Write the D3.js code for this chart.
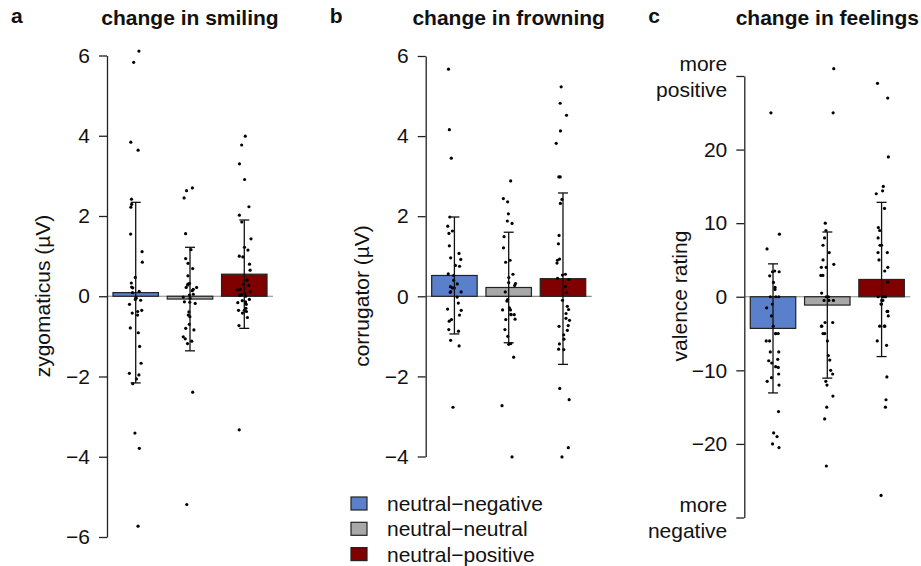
<!DOCTYPE html>
<meta charset="utf-8">
<html>
<head>
    <style>
        body { margin: 0; background: #fff; }
        svg text { font-family: "Liberation Sans", Arial, sans-serif; fill: #111; }
        .axis path, .axis line { stroke: #222; stroke-width: 1.3px; }
        .axis text { font-size: 21px; }
        .title { font-size: 21px; font-weight: bold; }
        .ylab { font-size: 21px; }
        .legend text { font-size: 21px; }
    </style>
    <script src="https://d3js.org/d3.v7.min.js"></script>
</head>
<body>
<svg id="svg" width="921" height="566"></svg>
<script>

    var conditions = ["neutral\u2212negative", "neutral\u2212neutral", "neutral\u2212positive"];

    // a: zygomaticus
    var smilingMeans = [0.09, -0.07, 0.55];
    var smilingSD = [2.25, 1.29, 1.35];
    var smilingTicks = [-6, -4, -2, 0, 2, 4, 6];
    var smilingNeg = [6.11, 5.83, 3.84, 3.64, 2.42, 2.29, 2.22, 1.55, 1.11, 0.85, 0.47, 0.33, 0.21, 0.23, 0.12, 0.09,
        -0.03, -0.05, -0.08, -0.1, -0.2, -0.35, -0.42, -0.38, -0.47, -0.79, -0.91, -1.25, -1.67, -1.92, -1.96, -2.06,
        -2.18, -3.41, -3.79, -5.73];
    var smilingNeu = [2.70, 2.63, 2.45, 1.56, 1.16, 0.94, 0.82, 0.69, 0.51, 0.32, 0.3, 0.28, 0.22, 0.22, 0.17, 0.14,
        0.05, 0.03, -0.02, -0.05, -0.14, -0.15, -0.18, -0.39, -0.47, -0.51, -0.70, -0.80, -0.84, -1.01, -1.06, -1.12,
        -1.18, -2.39, -5.19];
    var smilingPos = [3.99, 3.77, 3.30, 2.91, 2.23, 2.02, 1.85, 1.43, 1.22, 1.15, 1.0, 0.98, 0.8, 0.65, 0.4, 0.3, 0.27,
        0.17, 0.16, 0.11, 0.07, 0.04, 0.02, 0.0, -0.08, -0.11, -0.14, -0.16, -0.18, -0.2, -0.3, -0.35, -0.35, -0.38,
        -0.42, -0.53, -0.73, -3.33];

    // b: corrugator
    var frowningMeans = [0.52, 0.22, 0.44];
    var frowningSD = [1.46, 1.38, 2.14];
    var frowningTicks = [-4, -2, 0, 2, 4, 6];
    var frowningNeg = [5.67, 4.16, 3.45, 1.98, 1.75, 1.63, 1.57, 1.26, 1.07, 0.96, 0.92, 0.77, 0.75, 0.56, 0.52, 0.40,
        0.31, 0.24, 0.21, 0.21, 0.12, 0.11, 0.1, -0.02, -0.17, -0.32, -0.35, -0.47, -0.58, -0.62, -0.83, -0.87, -1.10,
        -1.24, -2.77];
    var frowningNeu = [2.88, 2.44, 2.36, 2.06, 1.88, 1.82, 1.49, 1.21, 0.9, 0.85, 0.55, 0.47, 0.34, 0.32, 0.27, 0.11,
        -0.08, -0.12, -0.29, -0.34, -0.34, -0.46, -0.45, -0.46, -0.57, -0.58, -0.83, -1.0, -1.18, -1.2, -1.52, -2.73,
        -4.01];
    var frowningPos = [5.23, 4.82, 4.52, 4.13, 3.82, 2.98, 2.98, 2.42, 2.32, 1.52, 1.31, 0.93, 0.9, 0.83, 0.55, 0.53,
        0.42, 0.45, 0.24, 0.09, -0.1, -0.25, -0.33, -0.43, -0.55, -0.6, -0.73, -0.75, -0.85, -0.96, -1.07, -1.19, -1.32,
        -1.33, -2.3, -2.58, -3.78, -4.01];

    // c: valence rating
    var feelingsMeans = [-4.3, -1.13, 2.35];
    var feelingsSD = [8.77, 9.93, 10.48];
    var feelingsTicks = [-30, -20, -10, 0, 10, 20, 30];
    var feelingsNeg = [25, 8.5, 6.5, 3.5, 3.4, 3.4, 2.85, 1.95, 1.27, 1.0, 0, 0, 0, -1, -1.5, -2.6, -4, -5, -5, -5, -6,
        -6, -7.5, -7.5, -8.5, -8.7, -9, -9.5, -9.6, -10.5, -11, -11.5, -12, -15.6, -18.5, -19, -20, -20.5];
    var feelingsNeu = [31, 25, 10, 9, 8, 7, 6, 5, 4.4, 4, 4, 2.9, 2.9, 0.5, 0, 0, -0.5, -0.5, -0.5, -3.5, -3.5, -4, -4,
        -5, -5, -6, -8, -8.6, -10, -10.5, -11.5, -12, -13.5, -15, -16.6, -23];
    var feelingsPos = [29, 27, 19, 15, 14.4, 14, 12, 9.4, 9, 8, 7, 7, 6, 6, 5, 4, 3.5, 2, 2, 0, 0, 0, 0, -0.5, -0.5,
        -1, -1, -2, -2, -2.6, -4, -4, -4, -6, -6.6, -10.9, -14, -15, -27];

    var colors = ["#5a80cc", "#a8a8a8", "#800000"];

    var panels = [
        {letter: "a", title: "change in smiling", ylab: "zygomaticus (\u00b5V)", means: smilingMeans, sds: smilingSD,
            points: [smilingNeg, smilingNeu, smilingPos], ticks: smilingTicks, domain: [-6, 6], range: [537, 55.5], x0: 107},
        {letter: "b", title: "change in frowning", ylab: "corrugator (\u00b5V)", means: frowningMeans, sds: frowningSD,
            points: [frowningNeg, frowningNeu, frowningPos], ticks: frowningTicks, domain: [-4, 6], range: [456.5, 56], x0: 425.7},
        {letter: "c", title: "change in feelings", ylab: "valence rating", means: feelingsMeans, sds: feelingsSD,
            points: [feelingsNeg, feelingsNeu, feelingsPos], ticks: feelingsTicks, domain: [-30, 30], range: [517.5, 76], x0: 744.3}
    ];

    var svg = d3.select("svg");
    var jitter = d3.randomLcg(0.42);

    panels.forEach(function (p) {
        var x = d3.scaleBand()
            .domain(conditions)
            .range([p.x0, p.x0 + 166])
            .paddingInner(0.162)
            .paddingOuter(0.11);
        var y = d3.scaleLinear().domain(p.domain).range(p.range);
        var bw = x.bandwidth();
        var g = svg.append("g");

        g.append("line")
            .attr("x1", p.x0).attr("x2", p.x0 + 166)
            .attr("y1", y(0)).attr("y2", y(0))
            .attr("stroke", "#888").attr("stroke-width", 1.2);

        g.selectAll(".bar")
            .data(conditions)
            .enter().append("rect")
            .attr("class", "bar")
            .attr("x", function (d) { return x(d); })
            .attr("width", bw)
            .attr("y", function (d, i) { return Math.min(y(p.means[i]), y(0)); })
            .attr("height", function (d, i) { return Math.abs(y(p.means[i]) - y(0)); })
            .attr("fill", function (d, i) { return colors[i]; })
            .attr("stroke", "#222")
            .attr("stroke-width", 1.2);

        conditions.forEach(function (c, i) {
            var cx = x(c) + bw / 2;
            g.selectAll(".pt" + i)
                .data(p.points[i])
                .enter().append("circle")
                .attr("cx", function () { return cx + (jitter() - 0.5) * 0.3 * bw; })
                .attr("cy", function (d) { return y(d); })
                .attr("r", 1.6)
                .attr("fill", "#000");

            var lo = p.means[i] - p.sds[i], hi = p.means[i] + p.sds[i];
            var eb = g.append("g").attr("stroke", "#111").attr("stroke-width", 1.3);
            eb.append("line").attr("x1", cx).attr("x2", cx).attr("y1", y(lo)).attr("y2", y(hi));
            eb.append("line").attr("x1", cx - 5).attr("x2", cx + 5).attr("y1", y(lo)).attr("y2", y(lo));
            eb.append("line").attr("x1", cx - 5).attr("x2", cx + 5).attr("y1", y(hi)).attr("y2", y(hi));
        });

        var axis = d3.axisLeft(y)
            .tickValues(p.ticks)
            .tickSize(8)
            .tickSizeOuter(0)
            .tickPadding(9)
            .tickFormat(function (d) { return String(d).replace("-", "\u2212"); });

        var ax = g.append("g")
            .attr("class", "axis")
            .attr("transform", "translate(" + p.x0 + ",0)")
            .call(axis);

        if (p.letter === "c") {
            ax.selectAll(".tick text")
                .filter(function (d) { return Math.abs(d) === 30; })
                .each(function (d) {
                    var t = d3.select(this).text("").attr("dy", null);
                    t.append("tspan").attr("x", -17).attr("y", -6).text("more");
                    t.append("tspan").attr("x", -17).attr("y", 20).text(d > 0 ? "positive" : "negative");
                });
        }

        svg.append("text")
            .attr("class", "ylab")
            .attr("text-anchor", "middle")
            .attr("transform", "translate(" + (p.x0 - 57) + ",296) rotate(-90)")
            .text(p.ylab);

        svg.append("text")
            .attr("class", "title")
            .attr("x", p.x0 - 96)
            .attr("y", 23)
            .text(p.letter);

        svg.append("text")
            .attr("class", "title")
            .attr("text-anchor", "middle")
            .attr("x", p.x0 + 83)
            .attr("y", 24.5)
            .text(p.title);
    });

    var legend = svg.append("g").attr("class", "legend");
    var row = legend.selectAll("g")
        .data(conditions)
        .enter().append("g")
        .attr("transform", function (d, i) { return "translate(351," + (503.5 + i * 25.3) + ")"; });
    row.append("rect")
        .attr("x", 0).attr("y", -6.5)
        .attr("width", 16).attr("height", 13)
        .attr("fill", function (d, i) { return colors[i]; })
        .attr("stroke", "#222")
        .attr("stroke-width", 1.2);
    row.append("text")
        .attr("x", 36)
        .attr("y", 7.5)
        .text(function (d) { return d; });

</script>
</body>
</html>
